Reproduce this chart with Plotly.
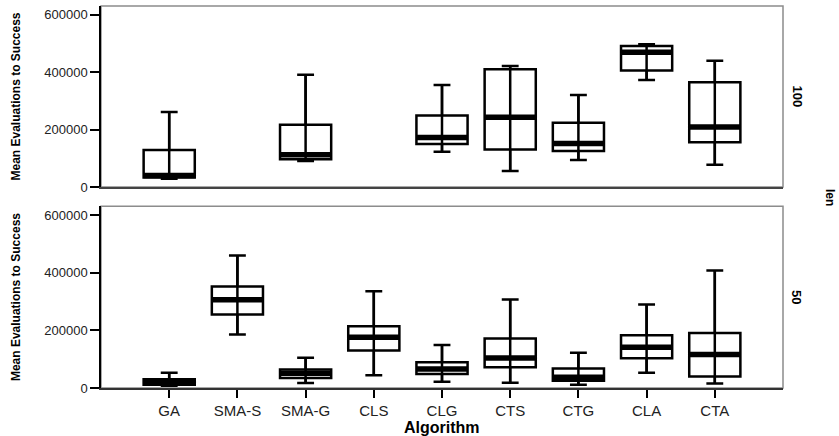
import plotly.graph_objects as go

categories = ["GA", "SMA-S", "SMA-G", "CLS", "CLG", "CTS", "CTG", "CLA", "CTA"]

# len = 100 (top panel); None = algorithm not shown
len100_min = [29000, None, 91000, None, 123000, 56000, 94000, 373000, 78000]
len100_q1 = [33000, None, 97000, None, 150000, 131000, 126000, 406000, 156000]
len100_med = [40000, None, 113000, None, 173000, 243000, 152000, 470000, 209000]
len100_q3 = [129000, None, 217000, None, 249000, 411000, 224000, 492000, 365000]
len100_max = [262000, None, 391000, None, 356000, 422000, 321000, 498000, 440000]

# len = 50 (bottom panel)
len50_min = [8000, 186000, 17000, 44000, 22000, 18000, 11500, 53000, 16000]
len50_q1 = [11000, 255000, 35000, 130000, 49000, 72000, 25000, 103000, 40000]
len50_med = [20000, 306000, 51000, 176000, 66000, 104000, 37000, 141000, 116000]
len50_q3 = [30000, 352000, 64000, 214000, 89000, 172000, 68000, 183000, 191000]
len50_max = [53000, 460000, 105000, 336000, 149000, 307000, 122000, 290000, 408000]

y_ticks = [0, 200000, 400000, 600000]
y_ticktext = ["0", "200000", "400000", "600000"]

FONT = "Liberation Sans, Arial, sans-serif"
BOXW = 0.75

fig = go.Figure()


def add_panel(lo, q1, med, q3, hi, xa, ya):
    idx = [i for i, v in enumerate(med) if v is not None]
    fig.add_trace(go.Box(
        x=idx,
        q1=[q1[i] for i in idx], median=[med[i] for i in idx], q3=[q3[i] for i in idx],
        lowerfence=[lo[i] for i in idx], upperfence=[hi[i] for i in idx],
        width=BOXW, whiskerwidth=0.33, fillcolor="rgba(0,0,0,0)",
        line=dict(color="black", width=2.5), boxpoints=False, hoverinfo="skip",
        xaxis=xa, yaxis=ya))
    wx, wy, mx, my = [], [], [], []
    for i in idx:
        wx += [i, i, None]
        wy += [lo[i], hi[i], None]
        mx += [i - BOXW / 2, i + BOXW / 2, None]
        my += [med[i], med[i], None]
    fig.add_trace(go.Scatter(x=wx, y=wy, mode="lines", line=dict(color="black", width=2.5),
                             hoverinfo="skip", xaxis=xa, yaxis=ya))
    fig.add_trace(go.Scatter(x=mx, y=my, mode="lines", line=dict(color="black", width=5.5),
                             hoverinfo="skip", xaxis=xa, yaxis=ya))


add_panel(len100_min, len100_q1, len100_med, len100_q3, len100_max, "x2", "y2")
add_panel(len50_min, len50_q1, len50_med, len50_q3, len50_max, "x", "y")

yax = dict(range=[0, 631000], tickvals=y_ticks, ticktext=y_ticktext, ticks="outside",
           ticklen=9, tickwidth=1.5, tickcolor="black", showline=True, linecolor="black",
           linewidth=1.5, showgrid=False, zeroline=False,
           tickfont=dict(family=FONT, size=13, color="#222"))

fig.update_layout(
    width=839, height=436,
    margin=dict(l=101, r=56, t=6, b=48),
    paper_bgcolor="white", plot_bgcolor="white",
    showlegend=False,
    font=dict(family=FONT, color="black"),
    xaxis=dict(domain=[0, 1], anchor="y", range=[-1, 9], tickvals=list(range(len(categories))),
               ticktext=categories, ticks="outside", ticklen=8, tickwidth=1.5, tickcolor="black",
               showline=True, linecolor="#333", linewidth=1.5, showgrid=False, zeroline=False,
               tickfont=dict(family=FONT, size=15, color="#222")),
    xaxis2=dict(domain=[0, 1], anchor="y2", matches="x", range=[-1, 9], showticklabels=False,
                ticks="", showline=True, linecolor="#444", linewidth=1.5, showgrid=False,
                zeroline=False),
    yaxis=dict(domain=[0, 0.476], anchor="x", **yax),
    yaxis2=dict(domain=[0.526, 1], anchor="x2", **yax),
    shapes=[
        dict(type="rect", xref="x domain", yref="y domain", x0=0, x1=1, y0=0, y1=1,
             line=dict(color="#8c8c8c", width=1.5), layer="below"),
        dict(type="rect", xref="x2 domain", yref="y2 domain", x0=0, x1=1, y0=0, y1=1,
             line=dict(color="#8c8c8c", width=1.5), layer="below"),
    ],
    annotations=[
        dict(text="<b>Mean Evaluations to Success</b>", xref="paper", x=0, xshift=-85,
             xanchor="center", yref="y2 domain", y=0.5, yanchor="middle", textangle=-90,
             showarrow=False, font=dict(family=FONT, size=12)),
        dict(text="<b>Mean Evaluations to Success</b>", xref="paper", x=0, xshift=-85,
             xanchor="center", yref="y domain", y=0.5, yanchor="middle", textangle=-90,
             showarrow=False, font=dict(family=FONT, size=12)),
        dict(text="<b>100</b>", xref="paper", x=1, xshift=14, xanchor="center",
             yref="y2 domain", y=0.5, yanchor="middle", textangle=90, showarrow=False,
             font=dict(family=FONT, size=13)),
        dict(text="<b>50</b>", xref="paper", x=1, xshift=14, xanchor="center",
             yref="y domain", y=0.5, yanchor="middle", textangle=90, showarrow=False,
             font=dict(family=FONT, size=13)),
        dict(text="<b>len</b>", xref="paper", x=1, xshift=47, xanchor="center",
             yref="paper", y=0.5, yanchor="middle", textangle=90, showarrow=False,
             font=dict(family=FONT, size=12)),
        dict(text="<b>Algorithm</b>", xref="paper", x=0.5, xanchor="center",
             yref="paper", y=0, yshift=-29, yanchor="top", showarrow=False,
             font=dict(family=FONT, size=16)),
    ],
)

fig.write_html("out.html")
